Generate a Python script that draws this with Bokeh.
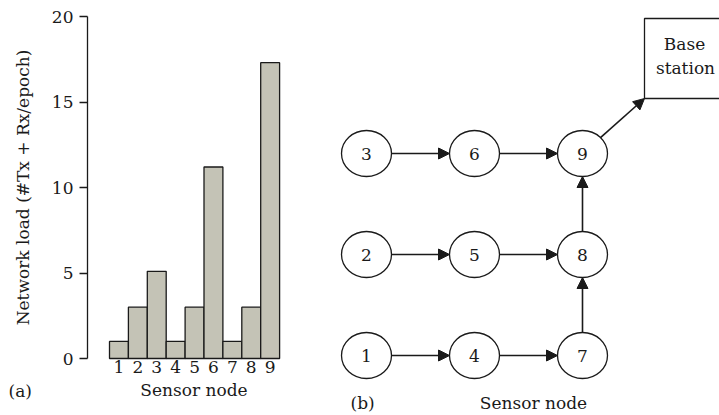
import math
from bokeh.plotting import figure
from bokeh.layouts import row
from bokeh.models import Range1d, FixedTicker, Arrow, NormalHead, ColumnDataSource
from bokeh.embed import file_html
from bokeh.resources import INLINE
from bokeh.core.properties import value

# ---- data ----
nodes = [1, 2, 3, 4, 5, 6, 7, 8, 9]
load = [1, 3, 5.1, 1, 3, 11.2, 1, 3, 17.3]
y_ticks = [0, 5, 10, 15, 20]
y_label = "Network load (#Tx + Rx/epoch)"
x_label = "Sensor node"
edges = [(1, 4), (4, 7), (2, 5), (5, 8), (3, 6), (6, 9), (7, 8), (8, 9)]
sink_node = 9
base_lines = ["Base", "station"]

FONT = "DejaVu Serif"
FS = "17px"
INK = "#1a1a1a"
BAR = "#c4c3b6"

# ---- panel (a): bar chart ----
PXU = 18.9          # px per node slot
PYU = 17.1          # px per load unit
X0 = 99.55          # page x of data x = 0
Y0 = 358            # page y of data y = 0
W1, H = 300, 415
p1 = figure(width=W1, height=H,
            x_range=Range1d(-X0 / PXU, (W1 - X0) / PXU),
            y_range=Range1d(-(H - Y0) / PYU, Y0 / PYU),
            output_backend="svg", toolbar_location=None, min_border=0)
p1.vbar(x=nodes, top=load, bottom=0, width=1, fill_color=BAR, line_color=INK, line_width=1.3)
p1.grid.visible = False
p1.outline_line_color = None

AX = (87 - X0) / PXU   # location of the y axis in data units

ya = p1.yaxis[0]
ya.fixed_location = AX
ya.bounds = (0, 20)
ya.ticker = FixedTicker(ticks=y_ticks, minor_ticks=[])
ya.axis_label = y_label
ya.axis_label_text_font = FONT
ya.axis_label_text_font_size = FS
ya.axis_label_text_font_style = "normal"
ya.axis_label_text_color = INK
ya.axis_label_standoff = 16
ya.major_label_text_font = FONT
ya.major_label_text_font_size = FS
ya.major_label_text_color = INK
ya.major_label_standoff = 6
ya.major_tick_out = 8
ya.major_tick_in = 0
ya.axis_line_color = INK
ya.axis_line_width = 1.3
ya.major_tick_line_color = INK
ya.major_tick_line_width = 1.3

xa = p1.xaxis[0]
xa.fixed_location = 0
xa.bounds = (AX, 10 - AX)
xa.ticker = FixedTicker(ticks=nodes, minor_ticks=[])
xa.axis_label = x_label
xa.axis_label_text_font = FONT
xa.axis_label_text_font_size = FS
xa.axis_label_text_font_style = "normal"
xa.axis_label_text_color = INK
xa.axis_label_standoff = 4
xa.major_label_text_font = FONT
xa.major_label_text_font_size = FS
xa.major_label_text_color = INK
xa.major_label_standoff = 2
xa.axis_line_color = None
xa.major_tick_line_color = None
xa.major_tick_out = 0
xa.major_tick_in = 0

p1.text(x=[(8 - X0) / PXU], y=[(Y0 - 390) / PYU], text=["(a)"], text_align="left",
        text_baseline="middle", text_font=value(FONT), text_font_size=FS, text_color=INK)

# ---- panel (b): network diagram ----
W2 = 719 - W1
p2 = figure(width=W2, height=H, x_range=Range1d(W1, 719), y_range=Range1d(H, 0),
            output_backend="svg", toolbar_location=None, min_border=0,
            x_axis_type=None, y_axis_type=None)
p2.outline_line_color = None

RX, RY = 25, 23
def pos(n):
    col = (n - 1) // 3
    rw = (n - 1) % 3
    return 366 + 108 * col, 355 - 101 * rw

cx = [pos(n)[0] for n in nodes]
cy = [pos(n)[1] for n in nodes]

def boundary(x, y, dx, dy):
    t = 1.0 / math.sqrt((dx / RX) ** 2 + (dy / RY) ** 2)
    return x + dx * t, y + dy * t

xs, ys, xe, ye = [], [], [], []
for u, v in edges:
    ux, uy = pos(u)
    vx, vy = pos(v)
    dx, dy = vx - ux, vy - uy
    a = boundary(ux, uy, dx, dy)
    b = boundary(vx, vy, -dx, -dy)
    xs.append(a[0]); ys.append(a[1]); xe.append(b[0]); ye.append(b[1])

# base station box
BL, BR, BT, BB = 644, 790, 18, 98
sx, sy = pos(sink_node)
a = boundary(sx, sy, BL - sx, BB - sy)
xs.append(a[0]); ys.append(a[1]); xe.append(BL); ye.append(BB)

p2.quad(left=[BL], right=[BR], top=[BT], bottom=[BB], fill_color="white",
        line_color=INK, line_width=1.3)
p2.text(x=[684, 685], y=[43, 67], text=base_lines, text_align="center", text_baseline="middle",
        text_font=value(FONT), text_font_size=FS, text_color=INK)

arrows = Arrow(source=ColumnDataSource(dict(x0=xs, y0=ys, x1=xe, y1=ye)),
               x_start="x0", y_start="y0", x_end="x1", y_end="y1",
               line_color=INK, line_width=1.6,
               end=NormalHead(size=11, fill_color=INK, line_color=INK, line_width=1))
p2.add_layout(arrows)

p2.ellipse(x=cx, y=cy, width=2 * RX, height=2 * RY, fill_color="white",
           line_color=INK, line_width=1.3)
p2.text(x=cx, y=cy, text=[str(n) for n in nodes], text_align="center", text_baseline="middle",
        text_font=value(FONT), text_font_size=FS, text_color=INK)

p2.text(x=[350], y=[402], text=["(b)"], text_align="left", text_baseline="middle",
        text_font=value(FONT), text_font_size=FS, text_color=INK)
p2.text(x=[533], y=[402], text=[x_label], text_align="center", text_baseline="middle",
        text_font=value(FONT), text_font_size=FS, text_color=INK)

layout = row(p1, p2)
open("out.html", "w").write(file_html(layout, INLINE))
